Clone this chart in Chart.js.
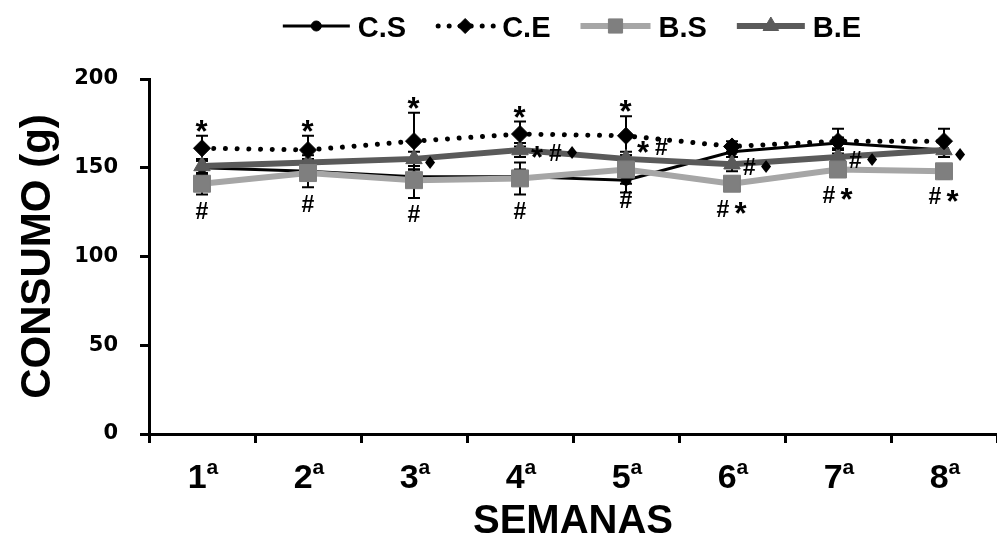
<!DOCTYPE html>
<html><head><meta charset="utf-8">
<script src="https://cdn.jsdelivr.net/npm/chart.js@4/dist/chart.umd.min.js"></script>
<style>html,body{margin:0;padding:0;background:#fff}canvas{display:block}</style>
</head><body>
<canvas id="c" width="997" height="544"></canvas>
<script>
// ---- data ----
const weeks = ['1ª','2ª','3ª','4ª','5ª','6ª','7ª','8ª'];
const seriesNames = ['C.S','C.E','B.S','B.E'];
const csValues = [150,148,145,145,143,159,164,160];
const ceValues = [161,160,165,169,168,162,165,165];
const bsValues = [141,147,143,144,149,141,149,148];
const beValues = [151,153,155,160,155,152,156,160];
const csErr = [4,4,4,4,7,3,3,4];
const ceErr = [7,8,16,7,11,3,7,7];
const bsErr = [6,8,10,9,8,4,4,4];
const beErr = [4,4,4,4,4,4,4,4];
const yTickValues = [0,50,100,150,200];
const marksAbove = ['*','*','*','*','*','','',''];
const marksBelow = ['#','#','#','#','#','#*','#*','#*'];
const marksRight = ['','','♦','*#♦','*#','#♦','#♦','♦'];

// ---- helpers ----
function drawMarker(ctx, style, x, y, r, color) {
  ctx.save();
  ctx.fillStyle = color; ctx.strokeStyle = color; ctx.lineWidth = 1;
  ctx.beginPath();
  if (style === 'circle') ctx.arc(x, y, r, 0, Math.PI * 2);
  else if (style === 'rectRot') { ctx.moveTo(x, y - r); ctx.lineTo(x + r, y); ctx.lineTo(x, y + r); ctx.lineTo(x - r, y); ctx.closePath(); }
  else if (style === 'rect') { const s = r * Math.SQRT1_2; ctx.rect(x - s, y - s, 2 * s, 2 * s); }
  else if (style === 'triangle') { ctx.moveTo(x, y - r); ctx.lineTo(x + r * Math.sin(Math.PI/3), y + r / 2); ctx.lineTo(x - r * Math.sin(Math.PI/3), y + r / 2); ctx.closePath(); }
  ctx.fill(); ctx.stroke();
  ctx.restore();
}
const markFonts = {
  '*': 'bold 31px "Liberation Sans"',
  '#': 'bold 23px "Liberation Sans"',
  '♦': 'bold 18px "DejaVu Sans"'
};
function inkInfo(ctx, ch) {
  ctx.font = markFonts[ch] || markFonts['#'];
  const m = ctx.measureText(ch);
  return {w: m.actualBoundingBoxLeft + m.actualBoundingBoxRight, l: m.actualBoundingBoxLeft,
          a: m.actualBoundingBoxAscent, d: m.actualBoundingBoxDescent};
}
function drawMarks(ctx, str, x, cy, align) {
  if (!str) return;
  const chars = Array.from(str), gap = 5;
  const infos = chars.map(c => inkInfo(ctx, c));
  const total = infos.reduce((s, i) => s + i.w, 0) + gap * (chars.length - 1);
  let cur = align === 'center' ? x - total / 2 : x;
  ctx.fillStyle = '#000'; ctx.textAlign = 'left'; ctx.textBaseline = 'alphabetic';
  chars.forEach((c, k) => {
    const inf = infos[k];
    ctx.font = markFonts[c] || markFonts['#'];
    ctx.fillText(c, cur + inf.l, cy + (inf.a - inf.d) / 2);
    cur += inf.w + gap;
  });
}

// ---- plugins ----
const errorBarsPlugin = {
  id: 'errorBars',
  beforeDatasetsDraw(chart) {
    const ctx = chart.ctx, ys = chart.scales.y;
    ctx.save(); ctx.strokeStyle = '#000'; ctx.lineWidth = 2;
    chart.data.datasets.forEach((ds, i) => {
      const meta = chart.getDatasetMeta(i);
      meta.data.forEach((pt, j) => {
        const v = ds.data[j], e = ds.errors[j];
        const yt = ys.getPixelForValue(v + e), yb = ys.getPixelForValue(v - e), x = pt.x;
        ctx.beginPath();
        ctx.moveTo(x, yt); ctx.lineTo(x, yb);
        ctx.moveTo(x - 6, yt); ctx.lineTo(x + 6, yt);
        ctx.moveTo(x - 6, yb); ctx.lineTo(x + 6, yb);
        ctx.stroke();
      });
    });
    ctx.restore();
  }
};

const marksPlugin = {
  id: 'sigMarks',
  afterDatasetsDraw(chart, args, opts) {
    const ctx = chart.ctx, ys = chart.scales.y;
    const ce = chart.getDatasetMeta(1), bs = chart.getDatasetMeta(2), be = chart.getDatasetMeta(3);
    ctx.save();
    weeks.forEach((w, j) => {
      const xc = ce.data[j].x;
      drawMarks(ctx, marksAbove[j], xc, ys.getPixelForValue(ceValues[j] + ceErr[j]) - 10, 'center');
      const below = Math.max(ys.getPixelForValue(bsValues[j] - bsErr[j]), bs.data[j].y + 8.5);
      drawMarks(ctx, marksBelow[j], xc, below + 16, 'center');
      drawMarks(ctx, marksRight[j], be.data[j].x + 11, be.data[j].y + opts.rightShift[j], 'left');
    });
    ctx.restore();
  }
};

const xLabelsPlugin = {
  id: 'xLabels',
  afterDraw(chart) {
    const ctx = chart.ctx, xs = chart.scales.x;
    ctx.save(); ctx.fillStyle = '#000'; ctx.textBaseline = 'alphabetic'; ctx.textAlign = 'left';
    weeks.forEach((lab, j) => {
      const num = lab.slice(0, -1), sup = 'a';
      ctx.font = 'bold 34px "Liberation Sans"';
      const wn = ctx.measureText(num).width;
      ctx.font = 'bold 21px "Liberation Sans"';
      const ws = ctx.measureText(sup).width;
      const x0 = xs.getPixelForValue(j) - (wn + ws) / 2 + 1;
      ctx.font = 'bold 34px "Liberation Sans"';
      ctx.fillText(num, x0, 488);
      ctx.font = 'bold 21px "Liberation Sans"';
      ctx.fillText(sup, x0 + wn, 474);
    });
    ctx.restore();
  }
};

const legendPlugin = {
  id: 'customLegend',
  afterDraw(chart) {
    const ctx = chart.ctx;
    ctx.save();
    ctx.font = 'bold 29px "Liberation Sans"';
    const items = chart.data.datasets.map(ds => ({ds, tw: ctx.measureText(ds.label).width, sw: ds.legendWidth}));
    const gapText = 8, gapItem = 30;
    const total = items.reduce((s, it) => s + it.sw + gapText + it.tw, 0) + gapItem * (items.length - 1);
    let x = 572 - total / 2;
    const ly = 26;
    items.forEach(it => {
      const ds = it.ds;
      ctx.save();
      ctx.strokeStyle = ds.borderColor; ctx.lineWidth = ds.legendLineWidth;
      ctx.lineCap = ds.borderDash ? 'round' : 'butt';
      ctx.setLineDash(ds.borderDash ? ds.legendDash : []);
      ctx.beginPath();
      if (ds.borderDash) { ctx.moveTo(x + 2, ly); ctx.lineTo(x + it.sw, ly); }
      else { ctx.moveTo(x, ly); ctx.lineTo(x + it.sw, ly); }
      ctx.stroke();
      ctx.restore();
      drawMarker(ctx, ds.pointStyle, x + it.sw / 2, ly, ds.legendRadius, ds.pointBackgroundColor);
      x += it.sw + gapText;
      ctx.fillStyle = '#000'; ctx.textBaseline = 'alphabetic'; ctx.textAlign = 'left';
      ctx.font = 'bold 29px "Liberation Sans"';
      ctx.fillText(ds.label, x, 37);
      x += it.tw + gapItem;
    });
    ctx.restore();
  }
};

// ---- chart ----
new Chart(document.getElementById('c'), {
  type: 'line',
  data: {
    labels: weeks,
    datasets: [
      {label: seriesNames[0], data: csValues, errors: csErr, order: 3,
       borderColor: '#000000', borderWidth: 3, pointStyle: 'circle', pointRadius: 5,
       pointBackgroundColor: '#000000', pointBorderColor: '#000000', pointBorderWidth: 1,
       legendWidth: 67, legendLineWidth: 3, legendRadius: 5},
      {label: seriesNames[1], data: ceValues, errors: ceErr, order: 0,
       borderColor: '#000000', borderWidth: 5, borderDash: [0.01, 11.7], borderCapStyle: 'round',
       pointStyle: 'rectRot', pointRadius: 8.5,
       pointBackgroundColor: '#000000', pointBorderColor: '#000000', pointBorderWidth: 1,
       legendWidth: 58, legendLineWidth: 5, legendDash: [0.01, 11], legendRadius: 7.5},
      {label: seriesNames[2], data: bsValues, errors: bsErr, order: 1,
       borderColor: '#a6a6a6', borderWidth: 6, pointStyle: 'rect', pointRadius: 12,
       pointBackgroundColor: '#7f7f7f', pointBorderColor: '#7f7f7f', pointBorderWidth: 1,
       legendWidth: 70, legendLineWidth: 6, legendRadius: 10},
      {label: seriesNames[3], data: beValues, errors: beErr, order: 2,
       borderColor: '#5a5a5a', borderWidth: 6, pointStyle: 'triangle', pointRadius: 9.5,
       pointBackgroundColor: '#5a5a5a', pointBorderColor: '#5a5a5a', pointBorderWidth: 1,
       legendWidth: 68, legendLineWidth: 6, legendRadius: 9}
    ]
  },
  options: {
    responsive: false, animation: false, devicePixelRatio: 1,
    layout: {autoPadding: false, padding: {top: 79, right: 0, left: 0, bottom: 0}},
    plugins: {legend: {display: false}, tooltip: {enabled: false},
              sigMarks: {rightShift: [3, 3, 3, 2, -12, 2, 2, 4]}},
    elements: {line: {tension: 0}},
    scales: {
      x: {
        type: 'category', offset: true,
        grid: {offset: true, drawOnChartArea: false, drawTicks: true, tickLength: 9, color: '#000', lineWidth: 3},
        border: {display: true, color: '#000', width: 3},
        ticks: {display: false},
        title: {display: true, text: 'SEMANAS', color: '#000',
                font: {family: 'Liberation Sans', size: 40, weight: 'bold', lineHeight: 1},
                padding: {top: 0, bottom: 2}},
        afterFit(s) { s.height = 110; s.paddingLeft = 0; s.paddingRight = 0; }
      },
      y: {
        min: 0, max: 200,
        afterBuildTicks(s) { s.ticks = yTickValues.map(v => ({value: v})); },
        grid: {drawOnChartArea: false, drawTicks: true, tickLength: 9, color: '#000', lineWidth: 3},
        border: {display: true, color: '#000', width: 3},
        ticks: {color: '#000', padding: 22, font: {family: 'DejaVu Sans', size: 21, weight: 'bold'}},
        title: {display: true, text: 'CONSUMO (g)', color: '#000',
                font: {family: 'Liberation Sans', size: 42, weight: 'bold', lineHeight: 1},
                padding: {top: 17, bottom: 0}},
        afterFit(s) { s.width = 149; }
      }
    }
  },
  plugins: [errorBarsPlugin, marksPlugin, xLabelsPlugin, legendPlugin]
});
</script>
</body></html>
